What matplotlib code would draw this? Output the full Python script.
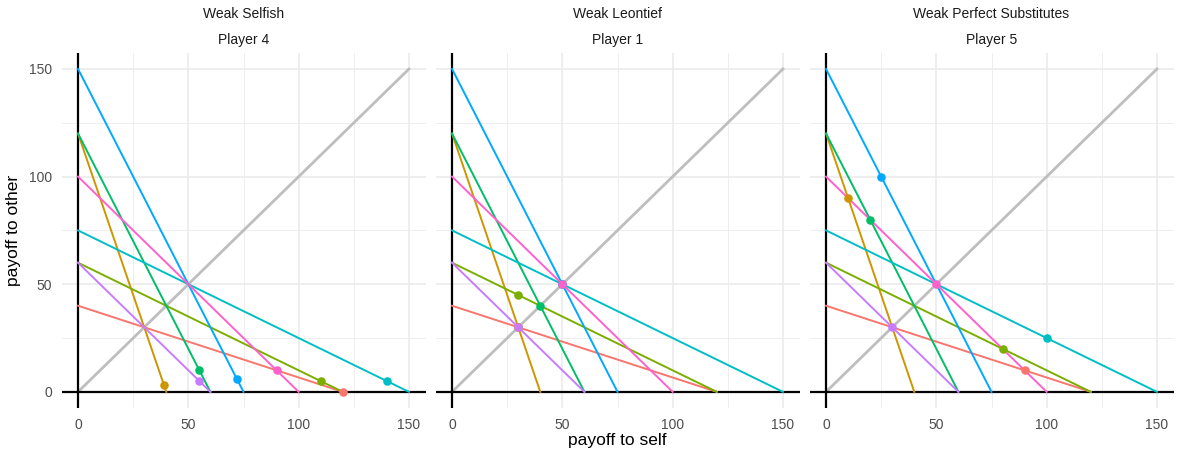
import numpy as np
import matplotlib
matplotlib.use("Agg")
import matplotlib.pyplot as plt

# budget lines: intercept on the self axis and on the other axis
self_int = [120, 40, 120, 60, 150, 75, 60, 100]
other_int = [40, 120, 60, 120, 75, 150, 60, 100]
colors = ["#F8766D", "#CD9600", "#7CAE00", "#00BE67",
          "#00BFC4", "#00A9FF", "#C77CFF", "#FF61CC"]

types = ["Weak Selfish", "Weak Leontief", "Weak Perfect Substitutes"]
players = ["Player 4", "Player 1", "Player 5"]

# chosen allocations per budget line (self, other)
choice_self = [
    [120, 39, 110, 55, 140, 72, 55, 90],
    [30, 30, 30, 40, 50, 50, 30, 50],
    [90, 10, 80, 20, 100, 25, 30, 50],
]
choice_other = [
    [0, 3, 5, 10, 5, 6, 5, 10],
    [30, 30, 45, 40, 50, 50, 30, 50],
    [10, 90, 20, 80, 25, 100, 30, 50],
]

W, H = 1178, 457
fig = plt.figure(figsize=(W / 100, H / 100), dpi=100)
plt.rcParams["font.family"] = "Liberation Sans"

lefts = [61.5, 435.5, 809.5]
pw = 364
top, bottom = 52.85, 408
lo, hi = -7.5, 157.5

for k in range(3):
    ax = fig.add_axes([lefts[k] / W, (H - bottom) / H, pw / W, (bottom - top) / H])
    ax.set_xlim(lo, hi)
    ax.set_ylim(lo, hi)
    for v in [25, 75, 125]:
        ax.axvline(v, color="#EBEBEB", lw=0.6, zorder=0)
        ax.axhline(v, color="#EBEBEB", lw=0.6, zorder=0)
    for v in [0, 50, 100, 150]:
        ax.axvline(v, color="#EBEBEB", lw=1.2, zorder=0)
        ax.axhline(v, color="#EBEBEB", lw=1.2, zorder=0)
    ax.plot([0, 150], [0, 150], color="#BEBEBE", lw=2, zorder=1)
    ax.axvline(0, color="black", lw=1.6, zorder=2)
    ax.axhline(0, color="black", lw=1.6, zorder=2)
    for i in range(8):
        ax.plot([0, self_int[i]], [other_int[i], 0], color=colors[i], lw=1.4, zorder=3)
    for i in range(8):
        ax.scatter(choice_self[k][i], choice_other[k][i], s=38, color=colors[i],
                   zorder=4, linewidths=0)
    for s in ax.spines.values():
        s.set_visible(False)
    ax.set_xticks([0, 50, 100, 150])
    ax.set_yticks([0, 50, 100, 150])
    ax.tick_params(length=0, labelsize=10, labelcolor="#4D4D4D", pad=7)
    if k > 0:
        ax.set_yticklabels([])
    ax.text(0.5, 1.0 + 39 / (bottom - top), types[k], transform=ax.transAxes,
            ha="center", va="center", fontsize=10, color="#1A1A1A")
    ax.text(0.5, 1.0 + 13 / (bottom - top), players[k], transform=ax.transAxes,
            ha="center", va="center", fontsize=10, color="#1A1A1A")

fig.text((lefts[0] + lefts[2] + pw) / 2 / W, 1 - 440 / H, "payoff to self",
         ha="center", va="center", fontsize=12.5)
fig.text(14 / W, 1 - (top + bottom) / 2 / H, "payoff to other",
         ha="center", va="center", rotation=90, fontsize=12.5)

fig.savefig("out.png", dpi=100)
